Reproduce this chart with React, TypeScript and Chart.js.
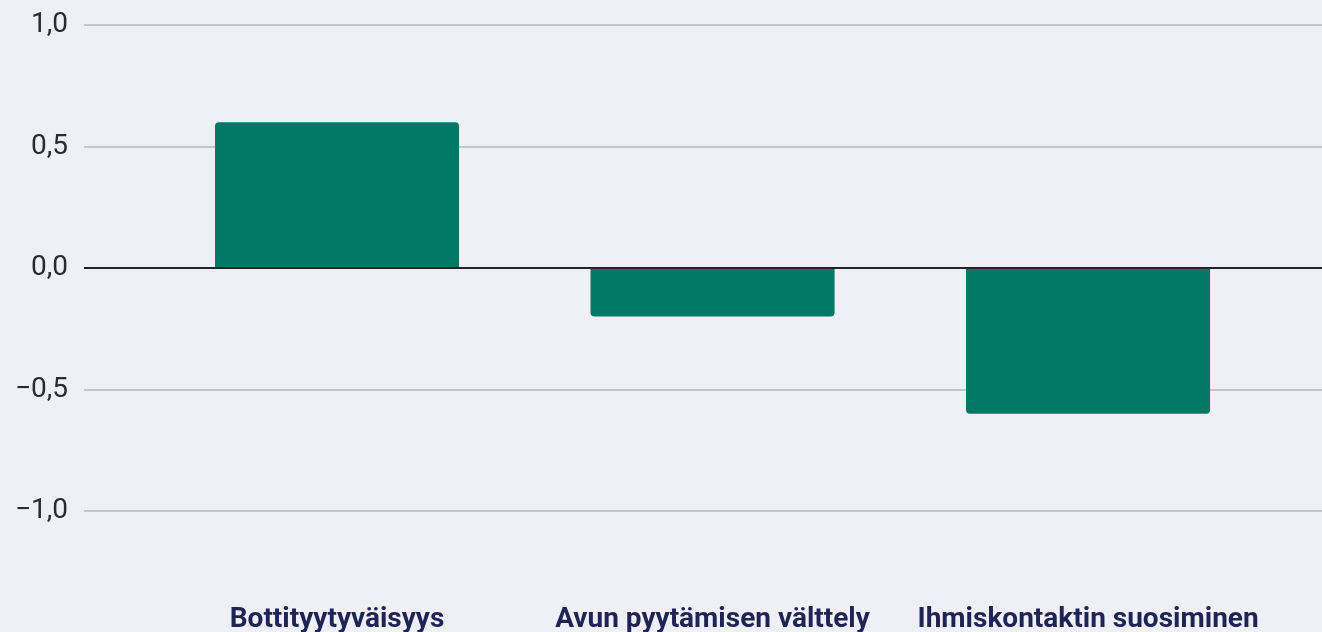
import React, { useEffect, useRef } from "react";
import { Chart, registerables } from "chart.js";

Chart.register(...registerables);

const categories: string[] = [
  "Bottityytyväisyys",
  "Avun pyytämisen välttely",
  "Ihmiskontaktin suosiminen",
];
const values: number[] = [0.6, -0.2, -0.6];
const yTicks: number[] = [-1.0, -0.5, 0.0, 0.5, 1.0];

const BG = "#eff0f5";
const BAR = "#037965";

function zeroPadding(scale: any) {
  scale.paddingTop = 0;
  scale.paddingBottom = 0;
  scale.paddingLeft = 0;
  scale.paddingRight = 0;
}

export default function App() {
  const ref = useRef<HTMLCanvasElement | null>(null);

  useEffect(() => {
    document.body.style.margin = "0";
    document.body.style.background = BG;
    if (!ref.current) return;
    Chart.defaults.font.family = "Roboto";
    const chart = new Chart(ref.current, {
      type: "bar",
      data: {
        datasets: [
          {
            data: categories.map((_, i) => ({ x: i, y: values[i] })),
            backgroundColor: BAR,
            borderRadius: 4,
            borderSkipped: "start",
            categoryPercentage: 1,
            barPercentage: 0.65,
          },
        ],
      },
      options: {
        animation: false,
        responsive: false,
        maintainAspectRatio: false,
        layout: { padding: { top: 25, right: 0, left: 0, bottom: 0 } },
        plugins: { legend: { display: false }, tooltip: { enabled: false } },
        scales: {
          x: {
            type: "linear",
            offset: false,
            min: -0.6738,
            max: 2.623,
            grid: { display: false, drawTicks: false, offset: false },
            border: { display: false },
            afterBuildTicks: (scale: any) => {
              scale.ticks = categories.map((_, i) => ({ value: i }));
            },
            afterFit: (scale: any) => {
              scale.height = 121;
              zeroPadding(scale);
            },
            ticks: {
              autoSkip: false,
              maxRotation: 0,
              padding: 92,
              color: "#1f2454",
              font: { size: 28, weight: "bold", family: "Roboto" },
              callback: (v: any) => categories[Number(v)] ?? "",
            },
          },
          y: {
            min: -1,
            max: 1,
            afterBuildTicks: (scale: any) => {
              scale.ticks = yTicks.map((v) => ({ value: v }));
            },
            afterFit: (scale: any) => {
              scale.width = 84;
              zeroPadding(scale);
            },
            grid: {
              drawTicks: false,
              color: (ctx: any) => (ctx.tick && ctx.tick.value === 0 ? "#222228" : "#c4c5cd"),
              lineWidth: 2,
            },
            border: { display: false },
            ticks: {
              padding: 16,
              color: "#2b2b2f",
              font: { size: 28, family: "Roboto" },
              callback: (v: any) =>
                Number(v).toFixed(1).replace(".", ",").replace("-", "\u2212"),
            },
          },
        },
      },
    } as any);
    return () => chart.destroy();
  }, []);

  return (
    <div style={{ width: 1322, height: 632, background: BG }}>
      <canvas ref={ref} width={1322} height={632} style={{ display: "block" }} />
    </div>
  );
}
